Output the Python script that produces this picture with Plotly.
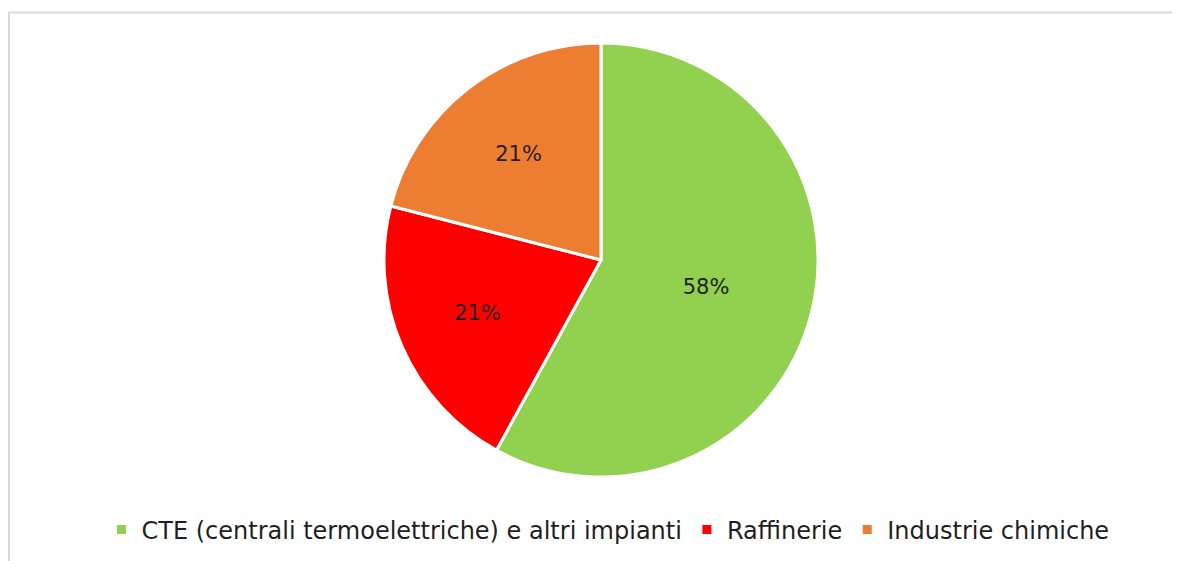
import plotly.graph_objects as go

labels = ["CTE (centrali termoelettriche) e altri impianti", "Raffinerie", "Industrie chimiche"]
values = [58, 21, 21]
colors = ["#92D050", "#FF0000", "#ED7D31"]

W, H = 1180, 561
OFF = 8  # page body margin offset
cx, cy, r = 601 - OFF, 260 - OFF, 217

fig = go.Figure(go.Pie(
    labels=labels,
    values=values,
    marker=dict(colors=colors, line=dict(color="white", width=3)),
    sort=False,
    direction="clockwise",
    rotation=0,
    textinfo="percent",
    texttemplate="%{percent:.0%}",
    textposition="inside",
    insidetextorientation="horizontal",
    textfont=dict(family="DejaVu Sans", size=21, color="#1f1f1f"),
    domain=dict(x=[(cx - r) / W, (cx + r) / W], y=[1 - (cy + r) / H, 1 - (cy - r) / H]),
    showlegend=True,
))

fig.update_layout(
    width=W, height=H,
    margin=dict(l=0, r=0, t=0, b=0),
    paper_bgcolor="white",
    font=dict(family="DejaVu Sans", color="#1f1f1f"),
    legend=dict(
        orientation="h",
        x=(608 - OFF) / W, xanchor="center",
        y=1 - (530 - OFF) / H, yanchor="middle",
        font=dict(size=24, family="DejaVu Sans", color="#1f1f1f"),
        traceorder="normal",
    ),
    shapes=[dict(type="rect", xref="paper", yref="paper",
                 x0=(9 - OFF) / W, x1=1.02, y0=-0.02, y1=1 - (12.5 - OFF) / H,
                 line=dict(color="#d9d9d9", width=2), fillcolor="rgba(0,0,0,0)", layer="below")],
)

fig.write_html("out.html")
